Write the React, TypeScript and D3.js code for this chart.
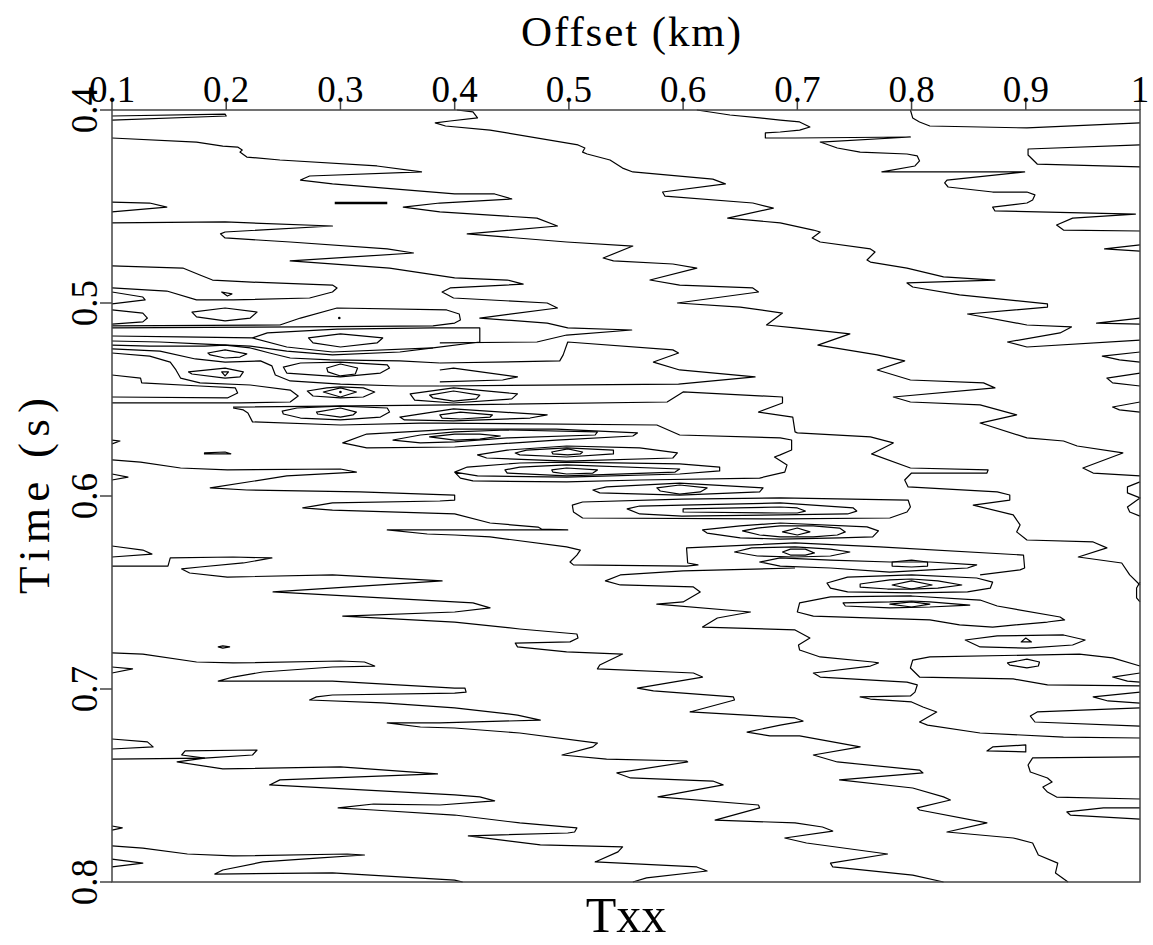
import React from 'react';
import * as d3 from 'd3';

type P = [number, number];

const offsetTicks = [0.1, 0.2, 0.3, 0.4, 0.5, 0.6, 0.7, 0.8, 0.9, 1];
const offsetTickLabels = ['0.1', '0.2', '0.3', '0.4', '0.5', '0.6', '0.7', '0.8', '0.9', '1'];
const timeTicks = [0.4, 0.5, 0.6, 0.7, 0.8];
const timeTickLabels = ['0.4', '0.5', '0.6', '0.7', '0.8'];

const lineA: P[] = [[.612,.4000],[.641,.4026],[.667,.4041],[.685,.4052],[.702,.4062],[.711,.4088],[.702,.4104],[.685,.4114],[.672,.4119],[.672,.4145],[.698,.4145],[.799,.4140],[.720,.4166],[.735,.4197],[.755,.4218],[.796,.4228],[.805,.4238],[.807,.4264],[.803,.4290],[.774,.4321],[.899,.4321],[.831,.4363],[.829,.4378],[.832,.4399],[.871,.4425],[.901,.4425],[.908,.4440],[.906,.4466],[.901,.4482],[.871,.4503],[.873,.4523],[.996,.4539],[.941,.4560],[.927,.4596],[.933,.4622],[1.000,.4627]];
const lineB: P[] = [[.402,.4000],[.416,.4010],[.420,.4041],[.396,.4057],[.383,.4067],[.392,.4083],[.431,.4104],[.508,.4181],[.514,.4197],[.512,.4218],[.516,.4228],[.536,.4259],[.547,.4301],[.556,.4321],[.626,.4358],[.637,.4383],[.582,.4425],[.584,.4446],[.661,.4482],[.679,.4508],[.639,.4560],[.685,.4585],[.714,.4622],[.720,.4632],[.713,.4663],[.720,.4684],[.764,.4720],[.768,.4736],[.761,.4777],[.764,.4788],[.796,.4819],[.828,.4865],[.873,.4881],[.796,.4896],[.801,.4917],[.842,.4958],[.919,.5005],[.919,.5021],[.849,.5057],[.901,.5114],[.940,.5124],[.930,.5155],[.884,.5202],[.901,.5228],[1.000,.5192]];
const lineC: P[] = [[.799,.4000],[.801,.4041],[.807,.4062],[.816,.4083],[.901,.4093],[1.000,.4067]];
const lineD: P[] = [[.100,.4145],[.174,.4166],[.197,.4187],[.210,.4192],[.214,.4207],[.212,.4218],[.218,.4244],[.247,.4259],[.332,.4290],[.371,.4321],[.273,.4342],[.265,.4363],[.293,.4383],[.400,.4435],[.435,.4435],[.450,.4461],[.387,.4482],[.355,.4503],[.387,.4528],[.472,.4560],[.490,.4601],[.411,.4642],[.498,.4684],[.556,.4705],[.530,.4767],[.539,.4782],[.591,.4798],[.612,.4819],[.571,.4881],[.597,.4907],[.661,.4922],[.666,.4943],[.595,.5000],[.650,.5021],[.687,.5052],[.673,.5114],[.698,.5129],[.746,.5160],[.718,.5218],[.770,.5269],[.794,.5300],[.770,.5347],[.799,.5399],[.863,.5414],[.873,.5440],[.784,.5487],[.799,.5513],[.860,.5528],[.892,.5580],[.860,.5622],[.901,.5699],[.933,.5715],[.945,.5741],[.985,.5777],[.950,.5855],[.959,.5881],[1.000,.5896]];
const lineE: P[] = [[.100,.4585],[.199,.4580],[.293,.4601],[.199,.4632],[.195,.4642],[.199,.4663],[.256,.4684],[.341,.4720],[.364,.4741],[.256,.4782],[.343,.4819],[.400,.4870],[.446,.4881],[.460,.4902],[.396,.4922],[.389,.4943],[.399,.4974],[.481,.5000],[.490,.5026],[.422,.5078],[.481,.5104],[.499,.5129],[.555,.5140],[.498,.5166],[.472,.5202],[.387,.5207]];
const lineF: P[] = [[.206,.5539],[.400,.5528],[.586,.5513],[.600,.5461],[.687,.5487],[.687,.5518],[.666,.5565],[.696,.5591],[.698,.5668],[.700,.5673],[.764,.5694],[.784,.5725],[.765,.5782],[.799,.5855],[.867,.5865],[.866,.5881],[.800,.5881],[.794,.5917],[.797,.5953],[.875,.5979],[.886,.5995],[.886,.6021],[.854,.6047],[.889,.6098],[.895,.6150],[.892,.6186],[.901,.6228],[.959,.6238],[.971,.6269],[.946,.6316],[.984,.6347],[.991,.6409],[1.000,.6461]];
const lineFLow: P[] = [[.206,.5544],[.215,.5554],[.219,.5570],[.223,.5616],[.300,.5632],[.370,.5622],[.387,.5622],[.577,.5632],[.597,.5684],[.685,.5699],[.695,.5710],[.695,.5762],[.685,.5787],[.680,.5798],[.691,.5839],[.689,.5876],[.667,.5907],[.562,.5917],[.498,.5927],[.416,.5922],[.405,.5907],[.400,.5876],[.411,.5850],[.457,.5829],[.498,.5824],[.597,.5834],[.632,.5850],[.632,.5870],[.597,.5886],[.498,.5902],[.420,.5896],[.400,.5876]];
const lineG: P[] = [[.100,.5813],[.125,.5824],[.160,.5855],[.201,.5865],[.300,.5860],[.314,.5876],[.253,.5896],[.186,.5958],[.218,.5969],[.317,.5979],[.400,.5995],[.400,.6021],[.387,.6026],[.293,.6036],[.267,.6062],[.293,.6073],[.400,.6093],[.431,.6140],[.473,.6161],[.476,.6171],[.499,.6176],[.387,.6176],[.341,.6176],[.376,.6197],[.400,.6202],[.431,.6212],[.498,.6264],[.510,.6280],[.507,.6306],[.501,.6342],[.504,.6357],[.603,.6363],[.613,.6357],[.604,.6347],[.603,.6269],[.698,.6243],[.772,.6264],[.898,.6306],[.899,.6373],[.895,.6383],[.860,.6409]];
const lineH: P[] = [[.100,.6363],[.149,.6363],[.151,.6321],[.206,.6316],[.240,.6321],[.215,.6347],[.177,.6368],[.161,.6378],[.168,.6399],[.201,.6420],[.293,.6409],[.389,.6440],[.241,.6497],[.400,.6549],[.416,.6554],[.431,.6580],[.400,.6601],[.302,.6622],[.400,.6653],[.457,.6689],[.507,.6715],[.508,.6736],[.501,.6756],[.453,.6762],[.455,.6782],[.498,.6808],[.547,.6819],[.527,.6876],[.525,.6896],[.609,.6917],[.617,.6938],[.560,.6995],[.574,.7010],[.644,.7041],[.645,.7057],[.606,.7119],[.698,.7150],[.705,.7166],[.685,.7187],[.656,.7223],[.676,.7243],[.702,.7243],[.755,.7300],[.714,.7342],[.735,.7378],[.807,.7420],[.810,.7435],[.737,.7471],[.801,.7513],[.828,.7559],[.834,.7575],[.805,.7616],[.807,.7627],[.866,.7694],[.831,.7741],[.889,.7772],[.906,.7798],[.911,.7860],[.928,.7902],[.926,.7953],[.937,.8000]];
const lineI: P[] = [[.100,.6813],[.127,.6819],[.174,.6860],[.206,.6865],[.300,.6855],[.321,.6860],[.330,.6881],[.293,.6886],[.232,.6912],[.206,.6938],[.193,.6959],[.293,.6959],[.400,.6995],[.409,.6995],[.410,.7016],[.400,.7021],[.293,.7031],[.279,.7041],[.273,.7057],[.337,.7072],[.400,.7098],[.455,.7135],[.475,.7161],[.387,.7176],[.341,.7176],[.370,.7197],[.400,.7202],[.457,.7228],[.525,.7280],[.521,.7300],[.494,.7342],[.533,.7363],[.603,.7373],[.604,.7378],[.542,.7435],[.554,.7461],[.626,.7477],[.635,.7497],[.578,.7559],[.666,.7601],[.667,.7616],[.628,.7679],[.698,.7694],[.722,.7715],[.731,.7736],[.689,.7772],[.708,.7798],[.779,.7855],[.729,.7902],[.731,.7922],[.801,.7964],[.828,.8000]];
const lineJ: P[] = [[.100,.7363],[.181,.7358],[.157,.7378],[.197,.7414],[.300,.7404],[.385,.7440],[.247,.7471],[.238,.7497],[.400,.7549],[.422,.7559],[.435,.7580],[.387,.7601],[.329,.7596],[.298,.7616],[.329,.7627],[.400,.7653],[.457,.7694],[.507,.7720],[.505,.7741],[.499,.7746],[.412,.7761],[.475,.7808],[.547,.7818],[.543,.7844],[.523,.7896],[.612,.7922],[.621,.7943],[.568,.7979],[.556,.8000]];
const lineK: P[] = [[.698,.6373],[.600,.6388],[.545,.6409],[.532,.6440],[.545,.6461],[.609,.6471],[.615,.6497],[.600,.6549],[.577,.6560],[.659,.6601],[.630,.6632],[.617,.6679],[.698,.6694],[.711,.6736],[.701,.6772],[.702,.6798],[.720,.6834],[.766,.6860],[.771,.6865],[.764,.6881],[.714,.6917],[.720,.6938],[.796,.6964],[.805,.6979],[.803,.7016],[.799,.7036],[.755,.7041],[.764,.7052],[.800,.7067],[.810,.7093],[.822,.7119],[.807,.7171],[.814,.7187],[.860,.7228],[.933,.7249],[1.000,.7254]];
const lineL: P[] = [[.100,.7813],[.127,.7824],[.166,.7855],[.206,.7865],[.306,.7855],[.321,.7860],[.279,.7876],[.232,.7896],[.197,.7938],[.190,.7959],[.293,.7953],[.400,.7990],[.407,.8000]];
const lineM: P[] = [[.387,.5311],[.492,.5300],[.495,.5269],[.499,.5202],[.591,.5243],[.596,.5259],[.574,.5306],[.597,.5347],[.663,.5383],[.596,.5420],[.387,.5430]];
const lineN: P[] = [[.387,.5347],[.399,.5337],[.455,.5383],[.442,.5399],[.387,.5409]];
const lineS1: P[] = [[.100,.5119],[.247,.5114],[.265,.5078],[.297,.5026],[.393,.5036],[.404,.5057],[.405,.5088],[.400,.5104],[.381,.5119],[.265,.5124],[.100,.5129]];
const lineR19: P[] = [[1.000,.6881],[.976,.6839],[.947,.6819],[.816,.6834],[.801,.6850],[.799,.6891],[.807,.6938],[.889,.6948],[.919,.6979],[1.000,.6984]];

// converging bundle at the left edge near 0.52-0.55 s
const fanA: P[] = [[.100,.5171],[.160,.5176],[.223,.5181]];
const fanB: P[] = [[.100,.5197],[.142,.5202],[.177,.5212],[.221,.5223],[.253,.5249],[.293,.5269],[.352,.5254],[.381,.5233]];
const fanC: P[] = [[.100,.5218],[.133,.5223],[.181,.5223],[.199,.5218],[.221,.5233],[.238,.5259],[.256,.5285],[.291,.5295],[.352,.5300],[.387,.5311]];
const fanD: P[] = [[.100,.5238],[.142,.5249],[.173,.5290],[.199,.5306],[.230,.5300],[.240,.5326],[.243,.5373],[.256,.5404],[.300,.5420],[.352,.5430],[.387,.5430]];
const fanE: P[] = [[.100,.5259],[.133,.5275],[.151,.5306],[.156,.5347],[.160,.5389],[.177,.5414],[.221,.5425],[.256,.5451],[.263,.5482],[.256,.5513],[.212,.5518],[.100,.5518]];
const fanTongue: P[] = [[.100,.5373],[.125,.5389],[.126,.5414],[.177,.5430],[.208,.5440],[.210,.5466],[.201,.5492],[.100,.5487]];

// short open contours touching the frame
const edgeTongues: P[][] = [
  [[.100,.4031],[.199,.4021],[.200,.4031],[.100,.4052]],
  [[.100,.4477],[.133,.4482],[.148,.4503],[.100,.4528]],
  [[.100,.4808],[.162,.4819],[.177,.4855],[.188,.4881],[.218,.4891],[.293,.4907],[.297,.4922],[.293,.4943],[.273,.4974],[.206,.4984],[.174,.4984],[.148,.4938],[.100,.4922]],
  [[.100,.4943],[.127,.4969],[.129,.4984],[.100,.5005]],
  [[.100,.5036],[.127,.5052],[.131,.5078],[.127,.5098],[.100,.5109]],
  [[.100,.5710],[.107,.5715],[.100,.5730]],
  [[.100,.5886],[.114,.5902],[.100,.5917]],
  [[.100,.6259],[.127,.6280],[.135,.6301],[.100,.6316]],
  [[.100,.6886],[.118,.6896],[.100,.6917]],
  [[.100,.7259],[.131,.7274],[.136,.7300],[.100,.7311]],
  [[.100,.7710],[.109,.7720],[.100,.7731]],
  [[.100,.7881],[.127,.7902],[.100,.7922]],
  [[1.000,.4181],[.902,.4202],[.902,.4233],[.910,.4280],[1.000,.4295]],
  [[1.000,.4699],[.969,.4720],[1.000,.4731]],
  [[1.000,.5078],[.962,.5104],[1.000,.5109]],
  [[1.000,.5254],[.967,.5275],[.982,.5295],[1.000,.5306]],
  [[1.000,.5363],[.971,.5389],[.976,.5414],[1.000,.5430]],
  [[1.000,.5513],[.976,.5539],[.982,.5554],[1.000,.5565]],
  [[1.000,.5927],[.989,.5953],[.989,.5984],[1.000,.6010],[.989,.6057],[.991,.6083],[1.000,.6104]],
  [[1.000,.6446],[.997,.6477],[.997,.6528],[1.000,.6549]],
  [[1.000,.6917],[.976,.6938],[.989,.6959],[1.000,.6964]],
  [[1.000,.7016],[.959,.7041],[.972,.7062],[1.000,.7073]],
  [[1.000,.7098],[.910,.7119],[.904,.7140],[.908,.7171],[1.000,.7192]],
  [[1.000,.7616],[.968,.7616],[.936,.7637],[.939,.7653],[1.000,.7674]],
  [[1.000,.7352],[.906,.7357],[.902,.7394],[.904,.7430],[.919,.7461],[.923,.7482],[.915,.7508],[.919,.7534],[.927,.7560],[1.000,.7570]],
];

// closed contours (rings around the reflection event)
const rings: P[][] = [
  [[.196,.4943],[.205,.4953],[.201,.4964]],
  [[.170,.5047],[.199,.5026],[.227,.5047],[.221,.5078],[.199,.5093],[.174,.5072]],
  [[.184,.5259],[.199,.5243],[.218,.5264],[.212,.5280],[.199,.5285],[.186,.5269]],
  [[.167,.5357],[.199,.5337],[.215,.5357],[.212,.5383],[.199,.5389],[.170,.5368]],
  [[.196,.5357],[.202,.5357],[.199,.5378]],
  [[.272,.5181],[.300,.5160],[.337,.5181],[.332,.5207],[.300,.5228],[.276,.5207]],
  [[.223,.5181],[.236,.5155],[.297,.5135],[.381,.5129],[.422,.5129],[.422,.5202],[.381,.5233],[.293,.5254],[.253,.5228]],
  [[.288,.5337],[.300,.5316],[.315,.5337],[.313,.5368],[.300,.5378],[.289,.5357]],
  [[.250,.5332],[.265,.5311],[.300,.5306],[.341,.5321],[.343,.5337],[.335,.5363],[.300,.5383],[.253,.5363]],
  [[.271,.5456],[.288,.5440],[.300,.5435],[.320,.5440],[.330,.5461],[.320,.5487],[.300,.5492],[.276,.5482]],
  [[.285,.5461],[.300,.5440],[.314,.5461],[.300,.5487]],
  [[.279,.5565],[.300,.5544],[.314,.5565],[.311,.5580],[.300,.5591],[.280,.5575]],
  [[.249,.5560],[.262,.5544],[.300,.5534],[.341,.5544],[.343,.5565],[.335,.5591],[.300,.5606],[.265,.5596],[.250,.5575]],
  [[.378,.5477],[.399,.5456],[.422,.5477],[.419,.5497],[.399,.5508],[.381,.5492]],
  [[.361,.5471],[.399,.5440],[.455,.5471],[.450,.5497],[.399,.5518],[.365,.5503]],
  [[.387,.5580],[.405,.5565],[.433,.5580],[.431,.5591],[.405,.5601],[.389,.5596]],
  [[.352,.5591],[.399,.5549],[.481,.5580],[.466,.5596],[.399,.5611],[.356,.5606]],
  [[.302,.5725],[.323,.5679],[.400,.5653],[.489,.5653],[.560,.5673],[.556,.5689],[.489,.5710],[.400,.5746],[.323,.5751]],
  [[.346,.5710],[.370,.5684],[.400,.5668],[.446,.5658],[.525,.5668],[.523,.5684],[.446,.5699],[.400,.5720],[.370,.5725]],
  [[.378,.5694],[.400,.5679],[.422,.5679],[.440,.5689],[.422,.5705],[.400,.5710]],
  [[.485,.5772],[.499,.5756],[.512,.5772],[.510,.5782],[.499,.5787],[.486,.5782]],
  [[.453,.5777],[.463,.5762],[.498,.5751],[.539,.5762],[.539,.5782],[.498,.5798],[.457,.5787]],
  [[.420,.5787],[.446,.5762],[.498,.5741],[.562,.5751],[.595,.5777],[.591,.5803],[.498,.5819],[.428,.5803]],
  [[.485,.5865],[.498,.5855],[.525,.5865],[.521,.5881],[.498,.5886],[.486,.5876]],
  [[.444,.5865],[.457,.5850],[.498,.5839],[.597,.5860],[.593,.5876],[.498,.5896],[.446,.5881]],
  [[.577,.5958],[.597,.5943],[.621,.5958],[.615,.5979],[.597,.5990],[.580,.5974]],
  [[.521,.5969],[.533,.5953],[.597,.5933],[.670,.5958],[.667,.5979],[.597,.5995],[.527,.5984]],
  [[.503,.6047],[.512,.6031],[.599,.6016],[.685,.6010],[.797,.6021],[.799,.6057],[.796,.6083],[.781,.6114],[.685,.6119],[.512,.6114],[.504,.6083]],
  [[.551,.6067],[.562,.6052],[.599,.6047],[.685,.6036],[.749,.6062],[.752,.6078],[.744,.6093],[.685,.6098],[.599,.6104],[.562,.6093]],
  [[.600,.6067],[.685,.6057],[.700,.6062],[.707,.6078],[.700,.6088],[.685,.6088],[.600,.6083]],
  [[.617,.6176],[.650,.6155],[.685,.6140],[.761,.6160],[.771,.6181],[.766,.6212],[.737,.6217],[.685,.6223],[.650,.6217],[.621,.6192]],
  [[.652,.6181],[.665,.6166],[.685,.6155],[.714,.6155],[.737,.6166],[.742,.6186],[.735,.6202],[.714,.6212],[.685,.6212],[.667,.6202]],
  [[.687,.6186],[.700,.6166],[.711,.6186],[.700,.6202]],
  [[.645,.6290],[.660,.6269],[.698,.6264],[.729,.6275],[.746,.6290],[.729,.6311],[.698,.6316],[.665,.6311]],
  [[.687,.6290],[.694,.6275],[.707,.6275],[.715,.6295],[.707,.6306],[.694,.6306]],
  [[.667,.6342],[.685,.6321],[.729,.6332],[.781,.6342],[.816,.6342],[.857,.6357],[.849,.6373],[.816,.6383],[.781,.6394],[.729,.6373],[.685,.6363]],
  [[.783,.6342],[.800,.6332],[.814,.6342],[.814,.6363],[.800,.6368],[.783,.6363]],
  [[.726,.6451],[.744,.6420],[.800,.6409],[.857,.6425],[.871,.6446],[.869,.6477],[.849,.6497],[.800,.6502],[.744,.6497],[.729,.6477]],
  [[.755,.6456],[.781,.6435],[.800,.6430],[.823,.6440],[.844,.6461],[.823,.6477],[.800,.6482],[.779,.6482],[.755,.6472]],
  [[.783,.6461],[.800,.6440],[.818,.6461],[.800,.6482]],
  [[.740,.6554],[.781,.6549],[.800,.6544],[.816,.6549],[.851,.6565],[.816,.6575],[.781,.6580],[.742,.6570]],
  [[.781,.6560],[.800,.6549],[.816,.6560],[.800,.6575]],
  [[.702,.6554],[.729,.6523],[.800,.6518],[.860,.6539],[.875,.6570],[.930,.6627],[.934,.6642],[.919,.6653],[.871,.6679],[.842,.6668],[.816,.6642],[.714,.6622],[.700,.6601]],
  [[.847,.6746],[.875,.6725],[.933,.6720],[.952,.6746],[.941,.6772],[.901,.6788],[.860,.6782]],
  [[.896,.6756],[.900,.6736],[.905,.6756]],
  [[.884,.6865],[.901,.6845],[.912,.6860],[.911,.6881],[.901,.6891],[.886,.6876]],
  [[.193,.6782],[.197,.6777],[.203,.6782],[.197,.6788]],
  [[.164,.7321],[.227,.7316],[.223,.7342],[.181,.7358],[.161,.7342]],
  [[.866,.7321],[.871,.7300],[.900,.7290],[.900,.7326]],
  [[.181,.5777],[.199,.5772],[.204,.5782],[.181,.5782]],
];

const boldDashes: P[][] = [
  [[.295,.4482],[.341,.4482]],
];
const dots: P[] = [[.299,.5078],[.300,.5461]];

const openLines: P[][] = [lineA, lineB, lineC, lineD, lineE, lineF, lineFLow, lineG, lineH, lineI, lineJ, lineK, lineL, lineM, lineN, lineS1, lineR19, fanA, fanB, fanC, fanD, fanE, fanTongue];

export default function App() {
  const W = 1153, H = 945;
  const left = 112, right = 1140, top = 110, bottom = 882;
  const x = d3.scaleLinear().domain([0.1, 1]).range([left, right]);
  const y = d3.scaleLinear().domain([0.4, 0.8]).range([top, bottom]);
  const line = d3.line<P>().x(d => x(d[0])).y(d => y(d[1]));
  const closed = d3.line<P>().x(d => x(d[0])).y(d => y(d[1])).curve(d3.curveLinearClosed);
  const font = '"Liberation Serif", "DejaVu Serif", serif';

  return (
    <svg width={W} height={H} style={{ position: 'absolute', left: 0, top: 0, background: '#fff' }}>
      <rect x={0} y={0} width={W} height={H} fill="#fff" />
      <g fill="none" stroke="#000" strokeWidth={1.2} strokeLinejoin="round">
        {openLines.map((l, i) => <path key={'o' + i} d={line(l) || ''} />)}
        {edgeTongues.map((l, i) => <path key={'e' + i} d={line(l) || ''} />)}
        {rings.map((l, i) => <path key={'r' + i} d={closed(l) || ''} />)}
        {boldDashes.map((l, i) => <path key={'b' + i} d={line(l) || ''} strokeWidth={2.6} />)}
      </g>
      {dots.map((d, i) => <circle key={'d' + i} cx={x(d[0])} cy={y(d[1])} r={1.3} fill="#000" />)}
      <g stroke="#444" strokeWidth={1.5} fill="none">
        <rect x={left} y={top} width={right - left} height={bottom - top} />
        {offsetTicks.map((t, i) => <line key={'xt' + i} x1={x(t)} x2={x(t)} y1={top} y2={top - 12} />)}
        {timeTicks.map((t, i) => <line key={'yt' + i} x1={left} x2={left - 12} y1={y(t)} y2={y(t)} />)}
      </g>
      <g fontFamily={font} fill="#000" stroke="none">
        {offsetTicks.map((t, i) => (
          <text key={'xl' + i} x={x(t)} y={102} fontSize={37} textAnchor="middle">{offsetTickLabels[i]}</text>
        ))}
        {timeTicks.map((t, i) => (
          <text key={'yl' + i} transform={`translate(${left - 15},${y(t)}) rotate(-90)`} fontSize={37} textAnchor="middle">{timeTickLabels[i]}</text>
        ))}
        <text x={631} y={46} fontSize={43} textAnchor="middle" textLength={220} lengthAdjust="spacing">Offset (km)</text>
        <text transform={`translate(49,${(top + bottom) / 2}) rotate(-90)`} fontSize={45} textAnchor="middle"
          textLength={196} lengthAdjust="spacing">Time (s)</text>
        <text x={626} y={932} fontSize={50} textAnchor="middle">Txx</text>
      </g>
    </svg>
  );
}
